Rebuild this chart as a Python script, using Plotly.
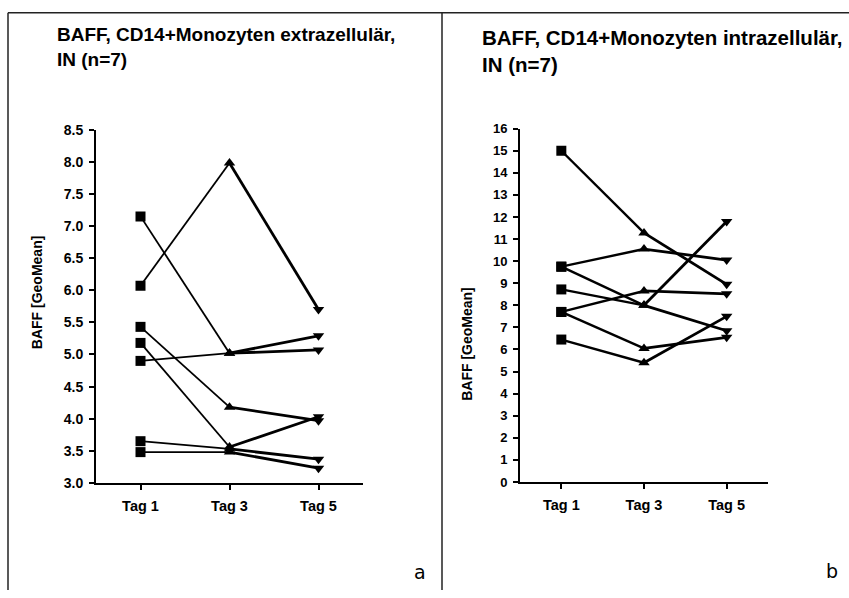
import plotly.graph_objects as go

W, H = 849, 598

categories = ["Tag 1", "Tag 3", "Tag 5"]
symbols = ["square", "triangle-up", "triangle-down"]

# left panel: extracellular
left_series = [
    [7.15, 5.02, 5.29],
    [6.07, 7.98, 5.70],
    [5.43, 4.18, 3.97],
    [5.18, 3.56, 4.03],
    [4.90, 5.02, 5.07],
    [3.65, 3.53, 3.37],
    [3.48, 3.48, 3.23],
]
left_ticks = [3.0, 3.5, 4.0, 4.5, 5.0, 5.5, 6.0, 6.5, 7.0, 7.5, 8.0, 8.5]

# right panel: intracellular
right_series = [
    [15.0, 11.28, 8.95],
    [9.75, 10.55, 10.05],
    [9.75, 8.0, 6.85],
    [8.72, 8.0, 11.8],
    [7.70, 8.65, 8.52],
    [7.70, 6.05, 6.55],
    [6.45, 5.40, 7.50],
]
right_ticks = list(range(0, 17))

left_title = "BAFF, CD14+Monozyten extrazellulär,<br>IN (n=7)"
right_title = "BAFF, CD14+Monozyten intrazellulär,<br>IN (n=7)"
y_title = "BAFF [GeoMean]"


def px(x):
    return x / W


def py(y):
    return 1 - y / H


fig = go.Figure()

FONT = "Liberation Sans, Arial, sans-serif"


def add_panel(series, xa, ya, w1, w2, msize):
    for s in series:
        fig.add_trace(go.Scatter(x=categories[0:2], y=s[0:2], mode="lines",
                                 line=dict(color="black", width=w1),
                                 xaxis=xa, yaxis=ya, showlegend=False, hoverinfo="skip"))
        fig.add_trace(go.Scatter(x=categories[1:3], y=s[1:3], mode="lines",
                                 line=dict(color="black", width=w2),
                                 xaxis=xa, yaxis=ya, showlegend=False, hoverinfo="skip"))
    for s in series:
        fig.add_trace(go.Scatter(x=categories, y=s, mode="markers",
                                 marker=dict(color="black", symbol=symbols, size=msize,
                                             line=dict(width=0)),
                                 xaxis=xa, yaxis=ya, showlegend=False))


add_panel(left_series, "x", "y", 1.8, 2.8, 10)
add_panel(right_series, "x2", "y2", 2.4, 2.8, 10)

axis_common = dict(showline=True, linecolor="black", linewidth=2, ticks="outside",
                   ticklen=5, tickwidth=2, tickcolor="black", showgrid=False,
                   zeroline=False, mirror=False)

fig.update_layout(
    width=W, height=H,
    margin=dict(l=0, r=0, t=0, b=0),
    paper_bgcolor="white", plot_bgcolor="white",
    xaxis=dict(domain=[px(96), px(363)], anchor="y", type="category",
               range=[-0.5, 2.5], ticklabelstandoff=4,
               tickfont=dict(family=FONT, size=14.5, color="black", weight="bold"),
               **axis_common),
    yaxis=dict(domain=[py(488), py(125)], anchor="x", range=[3.0, 8.5],
               tickvals=left_ticks, ticktext=[f"{v:.1f}" for v in left_ticks],
               ticklabelstandoff=3,
               tickfont=dict(family=FONT, size=14, color="black", weight="bold"),
               **axis_common),
    xaxis2=dict(domain=[px(520), px(768)], anchor="y2", type="category",
                range=[-0.5, 2.5], ticklabelstandoff=4,
                tickfont=dict(family=FONT, size=14.5, color="black", weight="bold"),
                **axis_common),
    yaxis2=dict(domain=[py(487), py(124)], anchor="x2", range=[0, 16],
                tickvals=right_ticks, ticktext=[str(v) for v in right_ticks],
                ticklabelstandoff=3,
                tickfont=dict(family=FONT, size=13, color="black", weight="bold"),
                **axis_common),
)

annotations = [
    dict(text=left_title, x=px(55), y=py(14), xanchor="left", yanchor="top",
         align="left", font=dict(family=FONT, size=19, color="black", weight="bold")),
    dict(text=right_title, x=px(480), y=py(16), xanchor="left", yanchor="top",
         align="left", font=dict(family=FONT, size=20.5, color="black", weight="bold")),
    dict(text=y_title, x=px(37), y=py(292), xanchor="center", yanchor="middle",
         textangle=-90, font=dict(family=FONT, size=14, color="black", weight="bold")),
    dict(text=y_title, x=px(467), y=py(345), xanchor="center", yanchor="middle",
         textangle=-90, font=dict(family=FONT, size=14, color="black", weight="bold")),
    dict(text="a", x=px(420), y=py(580), xanchor="center", yanchor="middle",
         font=dict(family="DejaVu Sans", size=19, color="black")),
    dict(text="b", x=px(832), y=py(578), xanchor="center", yanchor="middle",
         font=dict(family="DejaVu Sans", size=19, color="black")),
]
for a in annotations:
    a.update(xref="paper", yref="paper", showarrow=False)
fig.update_layout(annotations=annotations)

border = dict(color="#222222", width=1.5)
fig.update_layout(shapes=[
    dict(type="line", xref="paper", yref="paper", x0=px(8), x1=1, y0=py(5), y1=py(5), line=border),
    dict(type="line", xref="paper", yref="paper", x0=px(8), x1=px(8), y0=0, y1=py(5), line=border),
    dict(type="line", xref="paper", yref="paper", x0=px(442), x1=px(442), y0=0, y1=py(5), line=border),
])

fig.write_html("out.html")
